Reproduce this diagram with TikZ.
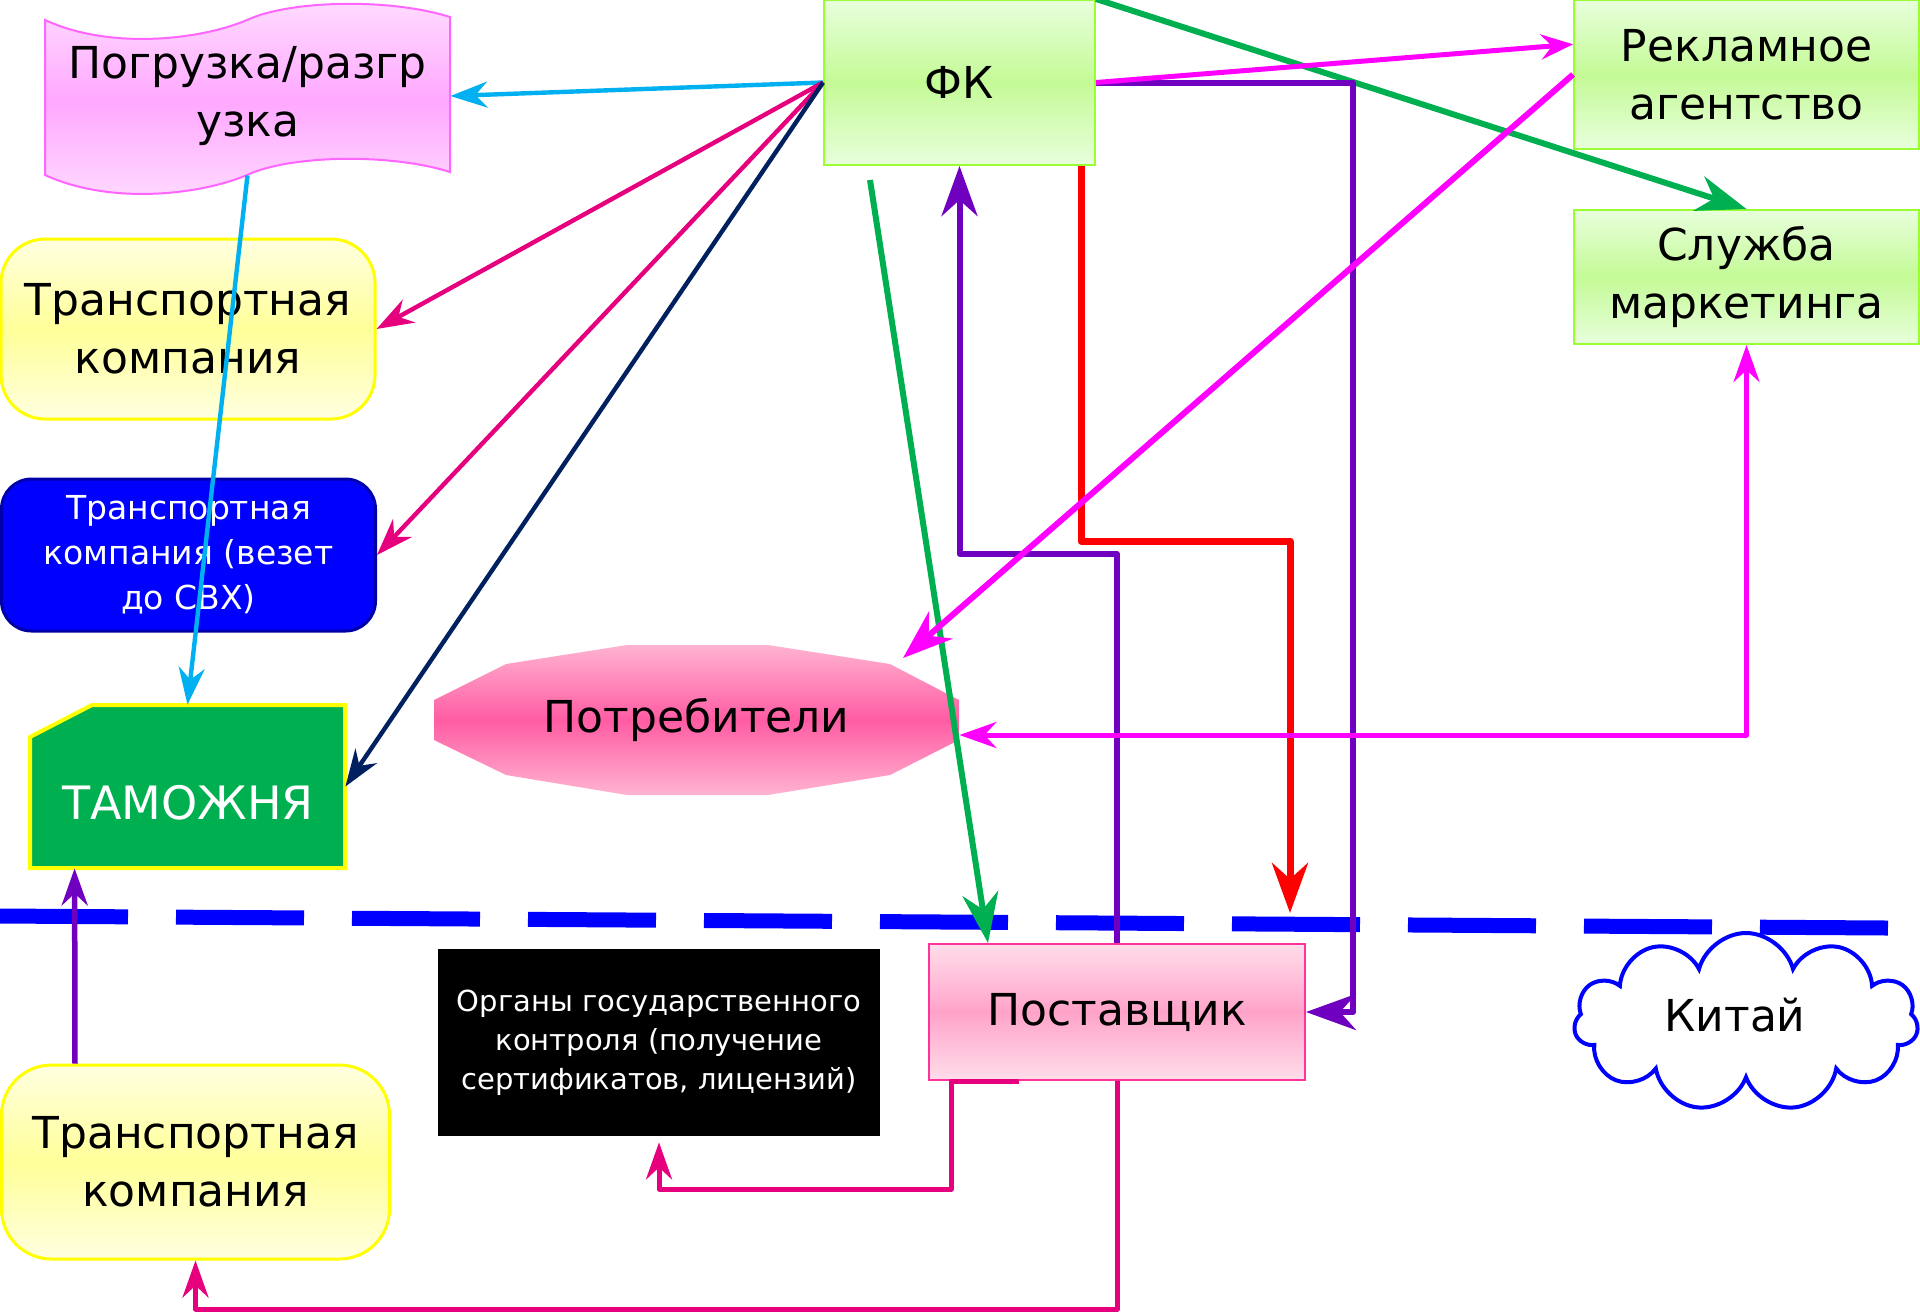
\documentclass[tikz,border=0pt]{standalone}
\usepackage{fontspec}
\setmainfont{DejaVu Sans}
\usetikzlibrary{arrows.meta,calc,shapes.symbols}
\definecolor{cCyan}{HTML}{00B0F0}
\definecolor{cCrim}{HTML}{E6007E}
\definecolor{cNavy}{HTML}{002060}
\definecolor{cGreen}{HTML}{00B050}
\definecolor{cMag}{HTML}{FF00FF}
\definecolor{cPurp}{HTML}{7000C0}
\definecolor{cRed}{HTML}{FF0000}
\definecolor{cBlue}{HTML}{0000FF}
\definecolor{cDkBlue}{HTML}{0000A8}
\definecolor{cLime}{HTML}{99FF33}
\definecolor{cGrL}{HTML}{E8FFDC}
\definecolor{cGrM}{HTML}{C4FA96}
\definecolor{cYel}{HTML}{FFFF00}
\definecolor{cYeL}{HTML}{FFFFE0}
\definecolor{cYeM}{HTML}{FFFF99}
\definecolor{cBanL}{HTML}{FFDDFF}
\definecolor{cBanM}{HTML}{FFA8FF}
\definecolor{cBanB}{HTML}{FF66FF}
\definecolor{cPoL}{HTML}{FFB3D1}
\definecolor{cPoM}{HTML}{FF5CA3}
\definecolor{cSuL}{HTML}{FFDDEA}
\definecolor{cSuM}{HTML}{FFA3C9}
\definecolor{cSuB}{HTML}{FF3399}
\begin{document}
\begin{tikzpicture}[x=0.5pt,y=-0.5pt,
  txt/.style={font=\fontsize{22pt}{29pt}\selectfont, align=center, inner sep=0pt},
  greenbox/.style={txt, draw=cLime, line width=1pt, top color=cGrL, bottom color=cGrL, middle color=cGrM},
  yelbox/.style={txt, draw=cYel, line width=1.5pt, rounded corners=22pt, top color=cYeL, bottom color=cYeL, middle color=cYeM},
  arrS/.style={-{Stealth[length=18.5pt,width=13pt,inset=6pt]}, line width=2.2pt, line join=round},
  arrM/.style={-{Stealth[length=16pt,width=12.5pt,inset=5.5pt]}, line width=2.5pt, line join=round},
  arrB/.style={-{Stealth[length=25pt,width=18pt,inset=8pt]}, line width=3pt, line join=round},
  dbl/.style={{Stealth[length=18.5pt,width=13pt,inset=6pt]}-{Stealth[length=18.5pt,width=13pt,inset=6pt]}, line width=2.5pt, line join=round}
]
\useasboundingbox (0,0) rectangle (1920,1313);

% border dashed line
\draw[cBlue, line width=7.5pt, dash pattern=on 64pt off 24pt] (0,916) -- (1888,928);

% banner
\path[draw=cBanB, line width=1pt, top color=cBanL, bottom color=cBanL, middle color=cBanM]
  (45,20) .. controls (110,50) and (200,40) .. (247,20)
  .. controls (290,0) and (390,-2) .. (450,17) -- (450,172)
  .. controls (390,153) and (290,155) .. (247,175)
  .. controls (200,195) and (110,205) .. (45,175) -- cycle;
\node[txt, minimum width=202.5pt, minimum height=79pt] (ban) at (247.5,96) {Погрузка/разгр\\узка};

% top boxes
\node[greenbox, minimum width=135.5pt, minimum height=82.5pt] (fk) at (959.5,82.5) {ФК};
\node[greenbox, minimum width=172.5pt, minimum height=74.5pt] (ra) at (1746.5,74.5) {Рекламное\\агентство};
\node[greenbox, minimum width=172.5pt, minimum height=67pt] (sm) at (1746.5,277) {Служба\\маркетинга};

% left boxes
\node[yelbox, minimum width=187pt, minimum height=90pt] (tk1) at (188,329) {Транспортная\\компания};
\node[txt, draw=cDkBlue, fill=cBlue, line width=1.5pt, rounded corners=15pt, text=white,
  font=\fontsize{16.5pt}{22.5pt}\selectfont, minimum width=187pt, minimum height=76pt] (blue) at (188.5,555) {Транспортная\\компания (везет\\до СВХ)};

% customs
\path[draw=cYel, line width=2pt, fill=cGreen] (30,737) -- (92,705) -- (345,705) -- (345,868) -- (30,868) -- cycle;
\node[inner sep=0pt, minimum width=157.5pt, minimum height=81.5pt] (tam) at (187.5,786.5) {};
\node[txt, text=white, font=\fontsize{23pt}{29pt}\selectfont] (tamT) at (188,803) {ТАМОЖНЯ};

% consumers
\path[top color=cPoL, bottom color=cPoL, middle color=cPoM]
  (434,700) -- (506,664) -- (627,645) -- (768,645) -- (890,664) -- (959,700)
  -- (959,740) -- (890,775) -- (768,795) -- (627,795) -- (506,775) -- (434,740) -- cycle;
\node[txt, minimum width=262.5pt, minimum height=75pt] (potr) at (696.5,720) {Потребители};
\coordinate (potrNE) at (903,658);

% supplier
\node[txt, draw=cSuB, line width=1pt, top color=cSuL, bottom color=cSuL, middle color=cSuM,
  minimum width=188pt, minimum height=68pt] (sup) at (1117,1012) {Поставщик};

% state control
\node[txt, fill=black, text=white, font=\fontsize{14.5pt}{19.5pt}\selectfont,
  minimum width=221pt, minimum height=93.5pt] (org) at (659,1042.5) {Органы государственного\\контроля (получение\\сертификатов, лицензий)};

% bottom transport
\node[yelbox, rounded corners=25pt, minimum width=194pt, minimum height=97pt] (tk2) at (195.5,1162) {Транспортная\\компания};

% China cloud
\node[cloud, cloud puffs=11, cloud ignores aspect, draw=cBlue, line width=2pt, fill=white,
  minimum width=172pt, minimum height=89pt, inner sep=0pt] (china) at (1746,1022) {};
\node[txt] (chinaT) at (1735,1015) {Китай};

% connectors
\coordinate (redEnd) at (1290,913);
\coordinate (grStart) at (870,180);

\draw[arrS, cCyan] (fk.west) -- (ban.east);
\draw[arrS, cCrim] (fk.west) -- (tk1.east);
\draw[arrS, cCrim] (fk.west) -- (blue.east);
\draw[arrS, cNavy] (fk.west) -- (tam.east);
\draw[arrS, cCyan] (ban.south) -- (tam.north);

\draw[arrB, cGreen] (fk.north east) -- (sm.north);
\draw[arrB, cPurp] (fk.east) -- ++(257,0) |- (sup.east);
\draw[arrM, cMag] (fk.east) -- ($(ra.north west)!0.3!(ra.south west)$);
\draw[arrB, cPurp] (sup.north) -- ++(0,-389) -| (fk.south);
\draw[arrB, cRed, line width=3.5pt] ($(fk.south east)+(-15,0)$) -- ++(0,375) -| (redEnd);
\draw[arrB, cGreen] (grStart) -- ($(sup.north west)+(60,0)$);
\draw[dbl, cMag] ($(potr.east)+(0,15)$) -| (sm.south);
\draw[arrB, cMag] (ra.west) -- (potrNE);

\draw[arrS, cPurp, line width=2.75pt] ($(tk2.north west)+(75,0)$) -- ($(tam.south west)+(45,0)$);
\draw[arrS, cCrim, line width=2.5pt] ($(sup.south west)+(91,0)$) -- ($(sup.south west)+(23,0)$) -- ++(0,108) -| ($(org.south)+(0,6)$);
\draw[arrS, cCrim, line width=2.5pt] (sup.south) -- ++(0,228) -| (tk2.south);
\end{tikzpicture}
\end{document}
